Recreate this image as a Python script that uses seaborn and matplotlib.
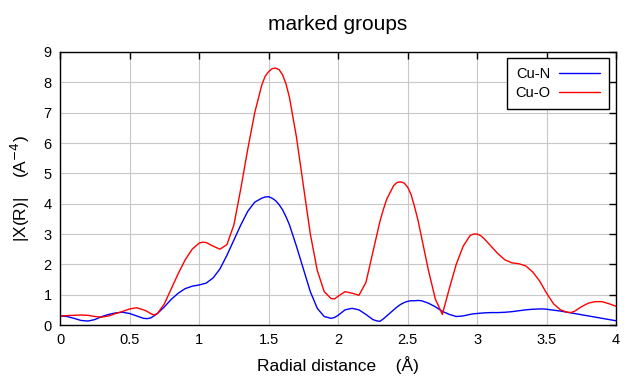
import seaborn as sns
import matplotlib.pyplot as plt
import pandas as pd

# radial distance (Angstrom); denser near the peaks
r = [0.00, 0.05, 0.10, 0.15, 0.20, 0.25, 0.30, 0.35, 0.40, 0.45,
     0.50, 0.55, 0.60, 0.625, 0.65, 0.675, 0.70, 0.75, 0.80, 0.85,
     0.90, 0.95, 1.00, 1.025, 1.05, 1.10, 1.15, 1.20, 1.25, 1.30,
     1.35, 1.40, 1.45, 1.475, 1.50, 1.525, 1.55, 1.575, 1.60, 1.625,
     1.65, 1.70, 1.75, 1.80, 1.85, 1.90, 1.95, 1.975, 2.00, 2.05,
     2.10, 2.15, 2.20, 2.25, 2.275, 2.30, 2.325, 2.35, 2.40, 2.425,
     2.45, 2.475, 2.50, 2.525, 2.55, 2.575, 2.60, 2.65, 2.70, 2.75,
     2.80, 2.85, 2.90, 2.95, 2.975, 3.00, 3.025, 3.05, 3.10, 3.15,
     3.20, 3.25, 3.30, 3.35, 3.40, 3.45, 3.475, 3.50, 3.55, 3.60,
     3.65, 3.675, 3.70, 3.75, 3.80, 3.85, 3.90, 3.95, 4.00]

cu_n = [0.30, 0.28, 0.22, 0.15, 0.13, 0.18, 0.28, 0.35, 0.40, 0.42,
        0.38, 0.30, 0.22, 0.21, 0.23, 0.30, 0.38, 0.60, 0.85, 1.05,
        1.20, 1.28, 1.32, 1.35, 1.38, 1.55, 1.85, 2.30, 2.80, 3.30,
        3.75, 4.05, 4.18, 4.22, 4.23, 4.18, 4.10, 3.97, 3.80, 3.57,
        3.30, 2.60, 1.85, 1.10, 0.55, 0.28, 0.22, 0.25, 0.32, 0.50,
        0.55, 0.50, 0.35, 0.18, 0.14, 0.12, 0.20, 0.30, 0.50, 0.60,
        0.68, 0.74, 0.78, 0.80, 0.80, 0.81, 0.80, 0.72, 0.60, 0.45,
        0.35, 0.28, 0.30, 0.35, 0.37, 0.38, 0.39, 0.40, 0.41, 0.41,
        0.42, 0.44, 0.47, 0.50, 0.52, 0.53, 0.53, 0.52, 0.49, 0.46,
        0.42, 0.40, 0.38, 0.34, 0.30, 0.26, 0.22, 0.18, 0.14]

cu_o = [0.30, 0.31, 0.32, 0.33, 0.32, 0.28, 0.26, 0.30, 0.38, 0.45,
        0.53, 0.57, 0.50, 0.45, 0.38, 0.33, 0.38, 0.70, 1.20, 1.70,
        2.15, 2.50, 2.70, 2.73, 2.72, 2.60, 2.50, 2.65, 3.30, 4.50,
        5.80, 7.00, 7.90, 8.20, 8.35, 8.45, 8.47, 8.42, 8.25, 7.95,
        7.50, 6.20, 4.60, 3.00, 1.80, 1.10, 0.87, 0.86, 0.95, 1.10,
        1.05, 0.98, 1.40, 2.40, 2.90, 3.40, 3.80, 4.15, 4.60, 4.70,
        4.72, 4.68, 4.55, 4.30, 3.90, 3.45, 2.90, 1.80, 0.85, 0.35,
        1.20, 2.00, 2.60, 2.95, 3.00, 3.00, 2.95, 2.85, 2.60, 2.35,
        2.15, 2.05, 2.02, 1.95, 1.75, 1.45, 1.25, 1.05, 0.70, 0.50,
        0.42, 0.41, 0.45, 0.60, 0.72, 0.77, 0.77, 0.70, 0.62]

x_ticks = [0, 0.5, 1, 1.5, 2, 2.5, 3, 3.5, 4]
x_tick_labels = ["0", "0.5", "1", "1.5", "2", "2.5", "3", "3.5", "4"]
y_ticks = list(range(0, 10))

df = pd.DataFrame({"r": r, "Cu-N": cu_n, "Cu-O": cu_o})

sns.set_style("white")
plt.rcParams["font.family"] = ["Liberation Sans", "DejaVu Sans"]
plt.rcParams["text.color"] = "black"
plt.rcParams["axes.labelcolor"] = "black"

fig = plt.figure(figsize=(6.4, 3.84), dpi=100)
ax = fig.add_axes([0.094, 0.1536, 0.8686, 0.711])

sns.lineplot(data=df, x="r", y="Cu-N", color="#0000ff", linewidth=1.0, label="Cu-N", ax=ax)
sns.lineplot(data=df, x="r", y="Cu-O", color="#ff0000", linewidth=1.0, label="Cu-O", ax=ax)

ax.set_xlim(0, 4)
ax.set_ylim(0, 9)
ax.set_xticks(x_ticks)
ax.set_xticklabels(x_tick_labels)
ax.set_yticks(y_ticks)
ax.grid(True, color="#c8c8c8", linewidth=0.8)
ax.set_axisbelow(True)
for s in ax.spines.values():
    s.set_color("black")
    s.set_linewidth(1.0)
ax.tick_params(direction="in", length=5, width=1, top=True, right=True,
               labelsize=10.5, colors="black", pad=6)
ax.tick_params(axis="x", labeltop=False)
ax.tick_params(axis="y", labelright=False)

ax.set_title("marked groups", fontsize=15, pad=16)
ax.set_xlabel("Radial distance    (Å)", fontsize=12.5, labelpad=6)
ax.set_ylabel("|X(R)|    (A$^{-4}$)", fontsize=12.5, labelpad=8)

leg = ax.legend(loc="upper right", bbox_to_anchor=(0.987, 0.978), borderaxespad=0,
                markerfirst=False, fancybox=False, frameon=True, edgecolor="black",
                framealpha=1, fontsize=10.5, handlelength=2.8, borderpad=0.6,
                labelspacing=0.35, handletextpad=0.6)
leg.get_frame().set_linewidth(1.0)

plt.savefig("out.png", dpi=100)
plt.close()
